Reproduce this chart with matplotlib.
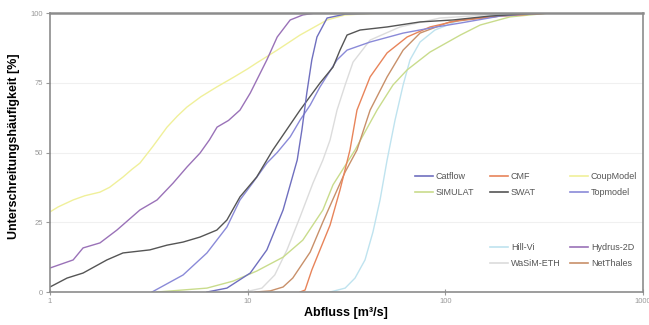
import matplotlib
matplotlib.use("Agg")
import matplotlib.pyplot as plt
from matplotlib.lines import Line2D

plt.rcParams['font.family'] = ['Liberation Sans', 'DejaVu Sans']

# discharge [m3/s] and non-exceedance frequency [%] per model
catflow_q = [6.22, 7.85, 10.3, 12.5, 15.1, 17.8, 18.8, 19.9, 21.1, 22.4, 25.2, 31.1, 46.7]
catflow_p = [0, 1.4, 6.8, 15.1, 29.4, 47.3, 58.1, 71.3, 83.2, 91.4, 98.2, 99.6, 100]

cmf_q = [18.4, 19.5, 21.1, 23.2, 26.1, 29.3, 32.9, 35.7, 41.6, 50.7, 64.0, 83.6, 119, 189, 338]
cmf_p = [0, 0.7, 7.9, 15.1, 24.0, 36.6, 50.9, 65.2, 77.1, 85.7, 91.4, 95.0, 97.5, 98.9, 100]

coup_q = [1.0, 1.1, 1.31, 1.5, 1.79, 2.0, 2.34, 2.6, 2.85, 3.3, 3.91, 4.4, 4.93, 5.8, 6.98,
          8.5, 10, 11.1, 14.1, 18.4, 25.2, 31.1, 46.7]
coup_p = [28.7, 30.5, 33.0, 34.5, 35.8, 37.5, 41.2, 44.0, 46.2, 52.0, 59.1, 63.0, 66.3, 70.0, 73.5,
          77.0, 80.0, 82.1, 86.7, 92.1, 97.5, 99.3, 100]

simulat_q = [3.48, 6.22, 8.43, 11.1, 15.1, 19.0, 24.0, 27.0, 34.9, 45.1, 54.3, 64.0, 83.6, 119, 150, 212, 338]
simulat_p = [0, 1.4, 3.9, 7.5, 12.5, 18.6, 29.4, 38.4, 50.9, 65.2, 74.2, 79.6, 86.0, 92.1, 95.7, 98.6, 100]

swat_q = [1.0, 1.22, 1.47, 1.94, 2.34, 3.2, 3.91, 4.71, 5.74, 6.98, 7.85, 9.14, 11.1, 13.4, 18.4,
          23.2, 27.0, 29.3, 31.8, 37.0, 50.7, 74.4, 109, 168, 268, 380]
swat_p = [1.8, 5.0, 6.8, 11.5, 14.0, 15.1, 16.8, 17.9, 19.7, 22.2, 25.8, 34.1, 41.2, 50.9, 65.2,
          74.9, 80.6, 86.7, 92.1, 93.9, 95.0, 96.8, 97.5, 98.9, 99.8, 100]

topmodel_q = [3.28, 4.71, 6.22, 7.85, 9.14, 10.6, 12.5, 14.1, 16.4, 18.4, 20.7, 23.2, 28.3, 31.8,
              41.6, 61.1, 90, 119, 189, 301]
topmodel_p = [0, 6.1, 14.0, 23.3, 33.0, 39.1, 46.2, 50.0, 55.6, 61.6, 67.0, 73.5, 83.2, 86.7,
              89.6, 92.8, 95.0, 96.4, 98.9, 100]

hillvi_q = [26.1, 31.1, 34.9, 39.2, 43.0, 46.7, 50.7, 55.6, 61.1, 66.2, 74.4, 88.5, 119, 189, 301]
hillvi_p = [0, 1.4, 5.0, 11.5, 21.5, 33.0, 47.3, 61.6, 74.2, 83.2, 89.6, 93.9, 97.5, 99.3, 100]

hydrus_q = [1.0, 1.31, 1.47, 1.79, 2.18, 2.85, 3.48, 4.19, 4.93, 5.74, 6.4, 7.0, 8.0, 9.14,
            10.3, 12.5, 14.1, 16.4, 19.0, 22]
hydrus_p = [8.6, 11.5, 15.8, 17.6, 22.2, 29.4, 33.0, 39.0, 44.8, 49.8, 54.5, 59.1, 61.5, 65.2,
            71.3, 83.2, 91.4, 97.5, 99.3, 100]

wasim_q = [9.69, 11.8, 13.7, 15.8, 18.4, 21.4, 24.0, 26.1, 28.3, 31.1, 34.1, 41.6, 58.9, 93.9, 189, 380]
wasim_p = [0, 1.4, 6.1, 15.1, 26.9, 39.1, 47.3, 54.5, 65.2, 74.2, 82.4, 90.3, 95.0, 98.2, 99.6, 100]

netthales_q = [10.9, 13.0, 15.1, 16.9, 20.7, 24.0, 27.6, 31.1, 35.7, 41.6, 50.7, 61.1, 74.4, 105, 189, 338]
netthales_p = [0, 0.4, 1.8, 5.0, 14.3, 25.1, 34.8, 43.0, 50.9, 65.2, 77.1, 86.7, 92.8, 96.8, 98.9, 100]

series = {
    "Catflow": (catflow_q, catflow_p, "#6f6fbf"),
    "CMF": (cmf_q, cmf_p, "#e8845a"),
    "CoupModel": (coup_q, coup_p, "#f0f09a"),
    "SIMULAT": (simulat_q, simulat_p, "#c9dc8c"),
    "SWAT": (swat_q, swat_p, "#555555"),
    "Topmodel": (topmodel_q, topmodel_p, "#8a8ad8"),
    "Hill-Vi": (hillvi_q, hillvi_p, "#bfe3ef"),
    "Hydrus-2D": (hydrus_q, hydrus_p, "#9a72b8"),
    "WaSiM-ETH": (wasim_q, wasim_p, "#dcdcdc"),
    "NetThales": (netthales_q, netthales_p, "#c8906a"),
}

y_ticks = [0, 25, 50, 75, 100]
x_ticks = [1, 10, 100, 1000]
x_ticklabels = ["1", "10", "100", "1000"]

fig = plt.figure(figsize=(6.49, 3.25), dpi=100)
ax = fig.add_axes([0.077, 0.1015, 0.914, 0.8585])

for name in ["WaSiM-ETH", "Hill-Vi", "CoupModel", "SIMULAT", "NetThales", "CMF",
             "Topmodel", "SWAT", "Catflow", "Hydrus-2D"]:
    q, p, c = series[name]
    ax.plot(q, p, color=c, lw=1.0)

ax.set_xscale("log")
ax.set_xlim(1, 1000)
ax.set_ylim(0, 100)
ax.set_xticks(x_ticks)
ax.set_xticklabels(x_ticklabels)
ax.set_yticks(y_ticks)
ax.minorticks_off()
ax.tick_params(axis="both", labelsize=5.5, colors="#999999", length=3, width=0.8, pad=2)
ax.tick_params(axis="x", direction="inout", length=4)
for y in [25, 50, 75]:
    ax.axhline(y, color="#f0f0f0", lw=0.8, zorder=0)
for s in ax.spines.values():
    s.set_color("#8c8c8c")
    s.set_linewidth(1.2)
ax.spines["top"].set_linewidth(1.8)

fig.text(0.533, 0.037, "Abfluss [m³/s]", ha="center", va="center",
         fontsize=9, fontweight="bold")
fig.text(0.021, 0.55, "Unterschreitungshäufigkeit [%]", ha="center", va="center",
         rotation=90, fontsize=9, fontweight="bold")

# legend columns, laid out like the original spreadsheet chart
W, H = 649.0, 325.0
columns = [
    (415, 172, ["Catflow", "SIMULAT"]),
    (490, 172, ["CMF", "SWAT"]),
    (570, 172, ["CoupModel", "Topmodel"]),
    (490, 243, ["Hill-Vi", "WaSiM-ETH"]),
    (570, 243, ["Hydrus-2D", "NetThales"]),
]
for x0, y0, names in columns:
    handles = [Line2D([], [], color=series[n][2], lw=1.2) for n in names]
    leg = fig.legend(handles, names, loc="upper left",
                     bbox_to_anchor=(x0 / W, 1 - y0 / H), frameon=False,
                     fontsize=6.5, handlelength=2.0, handletextpad=0.3,
                     borderpad=0, borderaxespad=0, labelspacing=0.75,
                     labelcolor="#555555")

fig.savefig("out.png", dpi=100)
